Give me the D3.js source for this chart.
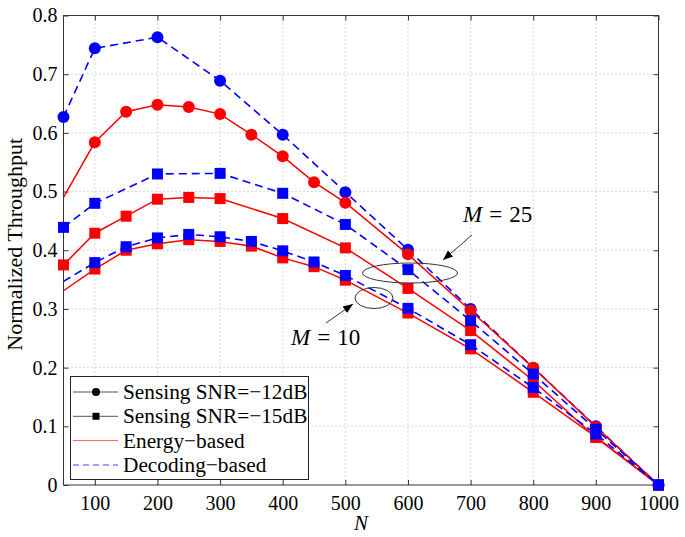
<!DOCTYPE html>
<html>
<head>
<meta charset="utf-8">
<script src="https://cdn.jsdelivr.net/npm/d3@7"></script>
<style>
  body { margin: 0; background: #fff; }
  svg { display: block; }
  text { font-family: "Liberation Serif", "Times New Roman", serif; fill: #000; }
</style>
</head>
<body>
<svg id="chart" width="685" height="537"></svg>
<script>
// ---- data ----
const nSparse = [50,100,200,300,400,500,600,700,800,900,1000];
const nDense  = [50,100,150,200,250,300,350,400,450,500,600,700,800,900,1000];
const nMid    = [50,100,150,200,250,300,400,500,600,700,800,900,1000];

const decodingSNR12 = [0.627,0.744,0.763,0.689,0.597,0.499,0.401,0.300,0.200,0.100,0];
const energySNR12   = [0.490,0.584,0.636,0.648,0.644,0.632,0.597,0.560,0.516,0.481,0.393,0.297,0.200,0.099,0];
const energySNR15M25   = [0.375,0.429,0.458,0.487,0.490,0.488,0.454,0.404,0.335,0.263,0.178,0.081,0];
const decodingSNR15M25 = [0.439,0.480,0.530,0.531,0.497,0.444,0.367,0.280,0.189,0.095,0];
const energySNR15M10   = [0.331,0.368,0.400,0.411,0.418,0.415,0.407,0.387,0.372,0.349,0.293,0.232,0.158,0.082,0];
const decodingSNR15M10 = [0.347,0.379,0.406,0.421,0.427,0.423,0.415,0.399,0.380,0.357,0.301,0.239,0.166,0.087,0];

const xTicks = [100,200,300,400,500,600,700,800,900,1000];
const yTicks = [0,0.1,0.2,0.3,0.4,0.5,0.6,0.7,0.8];
const legendLabels = ["Sensing SNR=\u221212dB","Sensing SNR=\u221215dB","Energy\u2212based","Decoding\u2212based"];

const series = [
  {x: nSparse, y: decodingSNR12,    kind: "dec", marker: "circle", from: 0},
  {x: nDense,  y: energySNR12,      kind: "ene", marker: "circle", from: 1},
  {x: nMid,    y: energySNR15M25,   kind: "ene", marker: "square", from: 0},
  {x: nSparse, y: decodingSNR15M25, kind: "dec", marker: "square", from: 0},
  {x: nDense,  y: energySNR15M10,   kind: "ene", marker: "square", from: 1},
  {x: nDense,  y: decodingSNR15M10, kind: "dec", marker: "square", from: 1}
];

// ---- layout ----
const svg = d3.select("#chart");
const L = 63.5, R = 658.5, T = 15.5, B = 485;
const x = d3.scaleLinear().domain([50,1000]).range([L,R]);
const y = d3.scaleLinear().domain([0,0.8]).range([B,T]);
const SERIF = "'Liberation Serif', 'Times New Roman', serif";

svg.append("defs").append("clipPath").attr("id","clip")
  .append("rect").attr("x",L).attr("y",T).attr("width",R-L).attr("height",B-T);

// grid
const grid = svg.append("g").attr("stroke","#b0b0b0").attr("stroke-width",1).attr("stroke-dasharray","1,3");
xTicks.filter(d => d < 1000).forEach(d => grid.append("line")
  .attr("x1",x(d)).attr("x2",x(d)).attr("y1",T).attr("y2",B));
yTicks.filter(d => d > 0 && d < 0.8).forEach(d => grid.append("line")
  .attr("x1",L).attr("x2",R).attr("y1",y(d)).attr("y2",y(d)));

// axes
const fmtY = d => d === 0 ? "0" : d3.format(".1f")(d);
const fmtX = d3.format("d");
const axB = svg.append("g").attr("transform",`translate(0,${B})`)
  .call(d3.axisBottom(x).tickValues(xTicks).tickFormat(fmtX).tickSizeInner(-5).tickSizeOuter(0).tickPadding(11));
const axT = svg.append("g").attr("transform",`translate(0,${T})`)
  .call(d3.axisTop(x).tickValues(xTicks).tickSizeInner(-5).tickSizeOuter(0).tickFormat(""));
const axL = svg.append("g").attr("transform",`translate(${L},0)`)
  .call(d3.axisLeft(y).tickValues(yTicks).tickSizeInner(-5).tickSizeOuter(0).tickPadding(6).tickFormat(fmtY));
const axR = svg.append("g").attr("transform",`translate(${R},0)`)
  .call(d3.axisRight(y).tickValues(yTicks).tickSizeInner(-5).tickSizeOuter(0).tickFormat(""));
[axB,axT,axL,axR].forEach(a => {
  a.attr("font-family", SERIF).attr("font-size", 20);
  a.select(".domain").remove();
  a.selectAll("line").attr("stroke","#333");
  a.selectAll("text").attr("fill","#000");
});
axB.selectAll("text").attr("dy","0.71em");
svg.append("rect").attr("x",L).attr("y",T).attr("width",R-L).attr("height",B-T)
  .attr("fill","none").attr("stroke","#333").attr("stroke-width",1);

// series
const red = "#ff0000", blue = "#0000ff";
const line = d3.line().x(d => x(d[0])).y(d => y(d[1]));
series.forEach(s => {
  const pts = s.x.map((v,i) => [v, s.y[i]]);
  const col = s.kind === "ene" ? red : blue;
  svg.append("path").attr("clip-path","url(#clip)")
    .attr("d", line(pts)).attr("fill","none").attr("stroke",col)
    .attr("stroke-width", s.kind === "ene" ? 1.5 : 1.6)
    .attr("stroke-dasharray", s.kind === "dec" ? "8,5" : null);
  const mk = pts.slice(s.from);
  if (s.marker === "circle") {
    svg.append("g").selectAll("circle").data(mk).join("circle")
      .attr("cx", d => x(d[0])).attr("cy", d => y(d[1])).attr("r", 6).attr("fill", col);
  } else {
    svg.append("g").selectAll("rect").data(mk).join("rect")
      .attr("x", d => x(d[0]) - 5.5).attr("y", d => y(d[1]) - 5.5)
      .attr("width", 11).attr("height", 11).attr("fill", col);
  }
});

// annotations
const ann = svg.append("g").attr("fill","none").attr("stroke","#333").attr("stroke-width",1);
ann.append("ellipse").attr("cx",410).attr("cy",273).attr("rx",47.5).attr("ry",10);
ann.append("ellipse").attr("cx",374).attr("cy",298).attr("rx",19).attr("ry",10.5);
svg.append("defs").append("marker").attr("id","arr").attr("viewBox","0 0 10 10")
  .attr("refX",10).attr("refY",5).attr("markerWidth",10).attr("markerHeight",10)
  .attr("markerUnits","userSpaceOnUse").attr("orient","auto")
  .append("path").attr("d","M0,1 L10,5 L0,9 Z").attr("fill","#000");
ann.append("line").attr("x1",472).attr("y1",235).attr("x2",443).attr("y2",260).attr("marker-end","url(#arr)");
ann.append("line").attr("x1",326).attr("y1",323).attr("x2",353).attr("y2",304).attr("marker-end","url(#arr)");

function mText(xp, yp, num) {
  const t = svg.append("text").attr("x",xp).attr("y",yp).style("font-size","23px");
  t.append("tspan").style("font-style","italic").text("M");
  t.append("tspan").attr("dx",7).text("=");
  t.append("tspan").attr("dx",7).text(num);
}
mText(463, 222, "25");
mText(291, 345, "10");

// axis titles
svg.append("text").attr("x", (L+R)/2 ).attr("y", 530).attr("text-anchor","middle")
  .style("font-size","21px").style("font-style","italic").text("N");
svg.append("text").attr("transform",`translate(22,${(T+B)/2 - 6}) rotate(-90)`)
  .attr("text-anchor","middle").style("font-size","22px").text("Normalized Throughput");

// legend
const lg = svg.append("g");
lg.append("rect").attr("x",70.5).attr("y",376.5).attr("width",238).attr("height",103)
  .attr("fill","#fff").attr("stroke","#222").attr("stroke-width",1);
const rowY = [392, 416.3, 440.6, 465];
legendLabels.forEach((lab,i) => {
  const yy = rowY[i];
  const ln = lg.append("line").attr("x1",73).attr("x2",118).attr("y1",yy).attr("y2",yy);
  if (i === 0) { ln.attr("stroke","#555").attr("stroke-width",1);
    lg.append("circle").attr("cx",96).attr("cy",yy).attr("r",4).attr("fill","#000"); }
  if (i === 1) { ln.attr("stroke","#555").attr("stroke-width",1);
    lg.append("rect").attr("x",92.5).attr("y",yy-3.5).attr("width",7).attr("height",7).attr("fill","#000"); }
  if (i === 2) ln.attr("stroke","#f06060").attr("stroke-width",1);
  if (i === 3) ln.attr("stroke","#4040ff").attr("stroke-width",1).attr("stroke-dasharray","6,4");
  lg.append("text").attr("x",123).attr("y",yy+7).style("font-size","21.3px").text(lab);
});
</script>
</body>
</html>
